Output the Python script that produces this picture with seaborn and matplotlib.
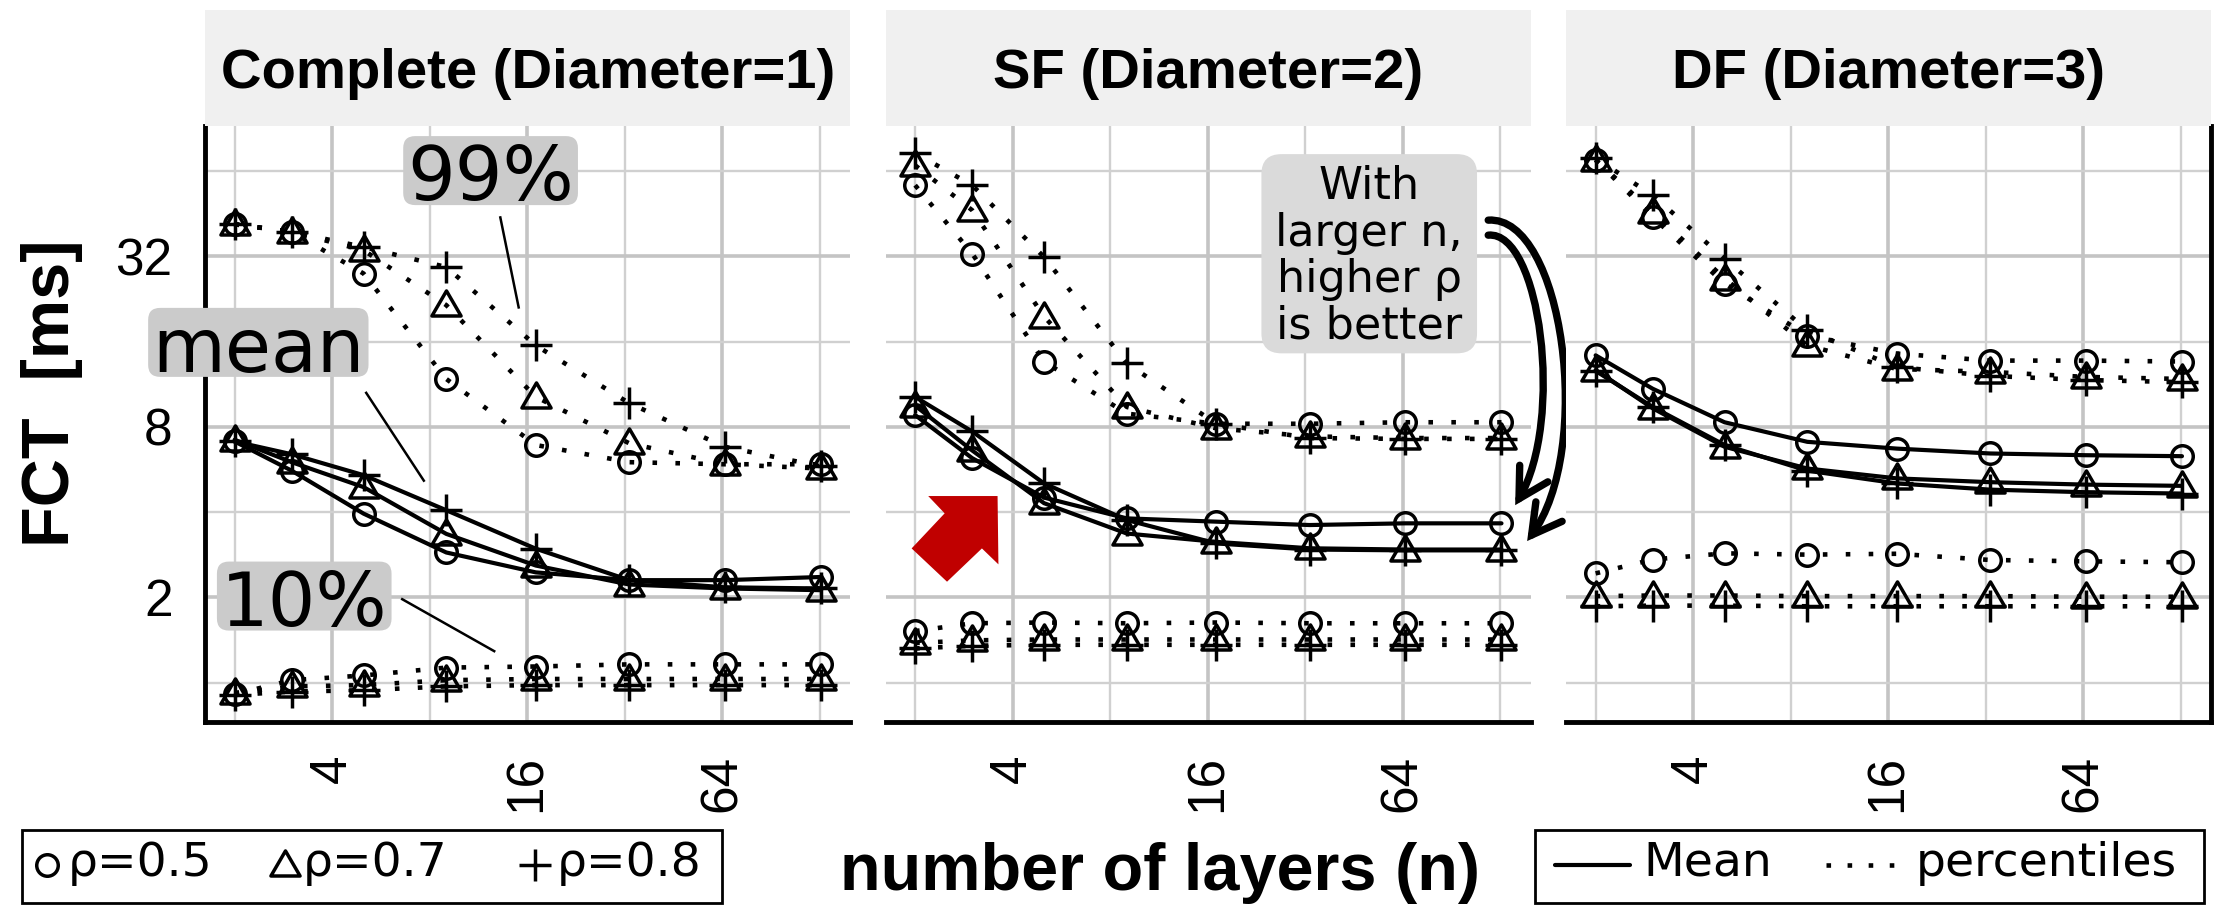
import matplotlib
matplotlib.use("Agg")
import numpy as np
import pandas as pd
import matplotlib.pyplot as plt
import seaborn as sns
from matplotlib.lines import Line2D
from matplotlib.patches import FancyBboxPatch, Polygon, Rectangle, FancyArrowPatch
from matplotlib.path import Path
from matplotlib.ticker import FixedLocator, NullFormatter, FuncFormatter

W, H, DPI = 2216, 908, 100

layers = [2, 3, 5, 9, 17, 33, 65, 129]
rho_labels = ["ρ=0.5", "ρ=0.7", "ρ=0.8"]
panel_titles = ["Complete (Diameter=1)", "SF (Diameter=2)", "DF (Diameter=3)"]
x_ticks = [4, 16, 64]
x_minor = [2, 8, 32, 128]
y_ticks = [2, 8, 32]
y_minor = [1, 4, 16, 64]

# flow completion time [ms]; rows are rho = 0.5, 0.7, 0.8
complete_mean = [
    [7.1, 5.6, 3.95, 2.88, 2.45, 2.30, 2.30, 2.36],
    [7.2, 6.0, 4.9, 3.35, 2.59, 2.22, 2.15, 2.12],
    [7.1, 6.4, 5.4, 4.06, 2.97, 2.30, 2.17, 2.15],
]
complete_p99 = [
    [41.5, 39.0, 27.8, 11.8, 6.9, 6.0, 5.9, 5.9],
    [41.5, 39.0, 33.6, 21.5, 10.2, 7.0, 5.9, 5.7],
    [41.5, 39.0, 34.5, 29.3, 15.5, 9.7, 6.8, 5.8],
]
complete_p10 = [
    [0.91, 1.02, 1.06, 1.13, 1.14, 1.16, 1.16, 1.16],
    [0.92, 0.97, 0.98, 1.02, 1.03, 1.03, 1.03, 1.03],
    [0.905, 0.93, 0.94, 0.97, 0.98, 0.98, 0.98, 0.98],
]
sf_mean = [
    [8.8, 6.2, 4.5, 3.8, 3.7, 3.6, 3.65, 3.65],
    [9.5, 6.6, 4.3, 3.36, 3.14, 2.98, 2.95, 2.95],
    [10.2, 7.7, 5.05, 3.75, 3.1, 2.95, 2.93, 2.93],
]
sf_p99 = [
    [57, 32.7, 13.6, 8.9, 8.2, 8.2, 8.3, 8.3],
    [67, 46.5, 19.6, 9.4, 7.9, 7.4, 7.3, 7.3],
    [74, 57, 31.8, 13.4, 8.2, 7.3, 7.25, 7.25],
]
sf_p10 = [
    [1.52, 1.62, 1.63, 1.62, 1.63, 1.62, 1.62, 1.62],
    [1.38, 1.41, 1.42, 1.42, 1.42, 1.42, 1.42, 1.42],
    [1.32, 1.35, 1.36, 1.36, 1.36, 1.36, 1.36, 1.36],
]
df_mean = [
    [14.3, 10.9, 8.3, 7.08, 6.7, 6.44, 6.35, 6.3],
    [12.7, 9.3, 6.8, 5.7, 5.26, 5.1, 5.0, 4.95],
    [12.6, 9.4, 6.9, 5.6, 5.05, 4.8, 4.7, 4.65],
]
df_p99 = [
    [70, 44, 25.6, 16.8, 14.5, 13.7, 13.7, 13.6],
    [70, 45.8, 26.7, 15.5, 12.8, 12.5, 12.0, 11.8],
    [71, 52.5, 31.4, 17.5, 13.0, 12.1, 11.7, 11.5],
]
df_p10 = [
    [2.43, 2.72, 2.86, 2.83, 2.85, 2.71, 2.68, 2.66],
    [2.02, 2.03, 2.03, 2.02, 2.02, 2.02, 2.01, 2.01],
    [1.86, 1.87, 1.87, 1.86, 1.86, 1.86, 1.86, 1.86],
]

panel_tables = [
    {"mean": complete_mean, "p99": complete_p99, "p10": complete_p10},
    {"mean": sf_mean, "p99": sf_p99, "p10": sf_p10},
    {"mean": df_mean, "p99": df_p99, "p10": df_p10},
]

rows = []
for title, tables in zip(panel_titles, panel_tables):
    for stat, table in tables.items():
        for rho, vals in zip(rho_labels, table):
            for n, v in zip(layers, vals):
                rows.append({"topology": title, "stat": stat, "rho": rho, "n": n, "fct": v})
data = pd.DataFrame(rows)

sns.set_style("white")
plt.rcParams["font.family"] = ["Liberation Sans", "DejaVu Sans"]
for key in ["text.color", "axes.labelcolor", "xtick.color", "ytick.color"]:
    plt.rcParams[key] = "black"

# ---- styles -----------------------------------------------------------
DOTTED = (0, (1, 4.0))
line_styles = {
    "mean": dict(linestyle="-", lw=3.0),
    "p99": dict(linestyle=DOTTED, lw=3.3),
    "p10": dict(linestyle=DOTTED, lw=3.3),
}
triangle = Path([(-0.5, -0.36), (0.5, -0.36), (0.0, 0.5), (-0.5, -0.36)],
                [Path.MOVETO, Path.LINETO, Path.LINETO, Path.CLOSEPOLY])
marker_styles = {
    "ρ=0.5": dict(marker="o", ms=15.5),
    "ρ=0.7": dict(marker=triangle, ms=21),
    "ρ=0.8": dict(marker="+", ms=23),
}
MEW = 2.5
AXIS_LW = 3.5
LABEL_FONT = "DejaVu Sans"


def px_box(x0, y0, x1, y1):
    """Figure-fraction rectangle from pixel corners (origin top-left)."""
    return [x0 / W, 1 - y1 / H, (x1 - x0) / W, (y1 - y0) / H]


def px(x, y):
    return x / W, 1 - y / H


fig = plt.figure(figsize=(W / DPI, H / DPI), dpi=DPI)
fig.patch.set_facecolor("white")

panel_left = [205.3, 885.8, 1566.3]
panel_w = 645
ax_top, ax_bottom, strip_top = 126, 722, 10

# shared log2 limits with 5 % padding
lx = np.log2(layers)
xr = lx.max() - lx.min()
xlim = (2 ** (lx.min() - 0.05 * xr), 2 ** (lx.max() + 0.05 * xr))
ly = np.log2(data["fct"].to_numpy())
yr = ly.max() - ly.min()
ylim = (2 ** (ly.min() - 0.05 * yr), 2 ** (ly.max() + 0.05 * yr))

axes = []
for i, (left, title) in enumerate(zip(panel_left, panel_titles)):
    ax = fig.add_axes(px_box(left, ax_top, left + panel_w, ax_bottom))
    axes.append(ax)
    sub = data[data["topology"] == title]
    for stat in ["p99", "p10", "mean"]:
        for rho in rho_labels:
            part = sub[(sub["stat"] == stat) & (sub["rho"] == rho)]
            sns.lineplot(data=part, x="n", y="fct", ax=ax, color="black",
                         mfc="none", mec="black", mew=MEW, legend=False,
                         errorbar=None, zorder=3,
                         **line_styles[stat], **marker_styles[rho])
    ax.set_xscale("log", base=2)
    ax.set_yscale("log", base=2)
    ax.set_xlim(*xlim)
    ax.set_ylim(*ylim)
    ax.xaxis.set_major_locator(FixedLocator(x_ticks))
    ax.xaxis.set_minor_locator(FixedLocator(x_minor))
    ax.yaxis.set_major_locator(FixedLocator(y_ticks))
    ax.yaxis.set_minor_locator(FixedLocator(y_minor))
    fmt = FuncFormatter(lambda v, p: f"{int(round(v))}")
    ax.xaxis.set_major_formatter(fmt)
    ax.yaxis.set_major_formatter(fmt)
    ax.xaxis.set_minor_formatter(NullFormatter())
    ax.yaxis.set_minor_formatter(NullFormatter())
    ax.set_xlabel("")
    ax.set_ylabel("")
    ax.set_axisbelow(True)
    ax.grid(which="major", color="#c4c4c4", lw=2.6)
    ax.grid(which="minor", color="#d0d0d0", lw=1.7)
    ax.tick_params(which="minor", length=0)
    ax.tick_params(which="major", length=11.5, width=AXIS_LW, color="black",
                   labelcolor="black", labelsize=37, pad=12)
    ax.tick_params(axis="x", labelrotation=90)
    for s in ax.spines.values():
        s.set_visible(False)
        s.set_linewidth(AXIS_LW)
        s.set_color("black")
    ax.spines["bottom"].set_visible(True)
    if i == 0:
        ax.spines["left"].set_visible(True)
    else:
        ax.tick_params(axis="y", which="both", left=False, labelleft=False)
    if i == 2:
        ax.spines["right"].set_visible(True)

    # facet strip
    sax = fig.add_axes(px_box(left, strip_top, left + panel_w, ax_top))
    sax.set_facecolor("#f0f0f0")
    sax.set_xticks([])
    sax.set_yticks([])
    for s in sax.spines.values():
        s.set_visible(False)
    sax.text(0.5, (ax_top - 88) / (ax_top - strip_top), title, ha="center",
             va="baseline", fontsize=40.5, fontweight="bold", color="black",
             transform=sax.transAxes)

ax1, ax2, ax3 = axes

# ---- annotations --------------------------------------------------------
boxed = []
big_labels = [("99%", 12.33, 50.5), ("mean", 2.367, 12.5), ("10%", 3.28, 1.59)]
for text, n, v in big_labels:
    t = ax1.text(n, v, text, ha="center", va="baseline", fontsize=54,
                 family=LABEL_FONT, color="black", zorder=6)
    boxed.append((ax1, t, 4, 7, -11, 12, "#cbcbcb"))

leaders = [((13.19, 44.3), (15.08, 20.9)),
           ((5.07, 10.63), (7.71, 5.12)),
           ((6.53, 1.98), (12.75, 1.285))]
for (n0, v0), (n1, v1) in leaders:
    ax1.plot([n0, n1], [v0, v1], color="black", lw=1.8, zorder=4,
             solid_capstyle="butt")

t = ax2.text(50.4, 32.0, "With\nlarger n,\nhigher ρ\nis better", ha="center",
             va="center", fontsize=32, family=LABEL_FONT, linespacing=1.1,
             color="black", zorder=6)
boxed.append((ax2, t, 14, 11, 6, 20, "#dadada"))

# red block arrow pointing up-right
red_arrow = [(2.195, 4.557), (3.593, 4.557), (3.615, 2.615), (3.215, 2.977),
             (2.509, 2.271), (1.951, 2.977), (2.467, 3.959)]
ax2.add_patch(Polygon(red_arrow, closed=True, fc="#c00000", ec="none",
                      zorder=4, transform=ax2.transData))

# curved arrows from the note to the mean curves
curves = [
    [(117.4, 42.9), (200.0, 44.7), (250.0, 6.62), (154.8, 3.16)],
    [(117.4, 37.97), (169.7, 39.6), (202.8, 8.44), (142.2, 4.23)],
]
for pts in curves:
    path = Path(pts, [Path.MOVETO, Path.CURVE4, Path.CURVE4, Path.CURVE4])
    arr = FancyArrowPatch(path=path, arrowstyle="->,head_length=0.5,head_width=0.28",
                          mutation_scale=42, lw=5.3, color="black",
                          transform=ax2.transData, clip_on=False, zorder=6,
                          capstyle="round", joinstyle="miter")
    ax2.add_patch(arr)

# ---- axis titles --------------------------------------------------------
fig.text(*px(51.7, 393.3), "FCT  [ms]", rotation=90, ha="center", va="center",
         fontsize=48, fontweight="bold", color="black")
fig.text(*px(1160, 890), "number of layers (n)", ha="center", va="baseline",
         fontsize=48, fontweight="bold", color="black")

# ---- legends ------------------------------------------------------------
leg_y, leg_base = 865, 876
box_top, box_bottom = 830, 903
fig.patches.append(Rectangle(px(21.8, box_bottom), (722 - 21.8) / W,
                             (box_bottom - box_top) / H,
                             transform=fig.transFigure, fill=False,
                             ec="black", lw=2.0))
for (mx, tx), rho in zip([(47, 68), (285, 303), (535, 557)], rho_labels):
    fig.lines.append(Line2D([mx / W], [1 - leg_y / H], transform=fig.transFigure,
                            ls="none", color="black", mfc="none", mec="black",
                            mew=MEW, **marker_styles[rho]))
    fig.text(*px(tx, leg_base), rho, ha="left", va="baseline", fontsize=34,
             family=LABEL_FONT, color="black")

fig.patches.append(Rectangle(px(1535, box_bottom), (2204 - 1535) / W,
                             (box_bottom - box_top) / H,
                             transform=fig.transFigure, fill=False,
                             ec="black", lw=2.0))
fig.lines.append(Line2D([1555 / W, 1630 / W], [1 - leg_y / H] * 2,
                        transform=fig.transFigure, color="black",
                        **line_styles["mean"]))
fig.text(*px(1643, leg_base), "Mean", ha="left", va="baseline", fontsize=34,
         family=LABEL_FONT, color="black")
fig.lines.append(Line2D([1826 / W, 1906 / W], [1 - leg_y / H] * 2,
                        transform=fig.transFigure, color="black",
                        linestyle=(0, (1, 3.6)), lw=3.3))
fig.text(*px(1916, leg_base), "percentiles", ha="left", va="baseline",
         fontsize=34, family=LABEL_FONT, color="black")

# ---- rounded label boxes sized to their text ------------------------------
fig.canvas.draw()
renderer = fig.canvas.get_renderer()
for ax, t, hp, tp, bp, r, fc in boxed:
    bb = t.get_window_extent(renderer)
    inv = ax.transAxes.inverted()
    x0, y0 = inv.transform((bb.x0 - hp, bb.y0 - bp))
    x1, y1 = inv.transform((bb.x1 + hp, bb.y1 + tp))
    aw, ah = ax.bbox.width, ax.bbox.height
    ax.add_patch(FancyBboxPatch((x0, y0), x1 - x0, y1 - y0,
                                boxstyle=f"round,pad=0,rounding_size={r / aw}",
                                mutation_aspect=aw / ah, transform=ax.transAxes,
                                fc=fc, ec="none", zorder=5, clip_on=False))

fig.savefig("out.png", dpi=DPI, facecolor="white")
